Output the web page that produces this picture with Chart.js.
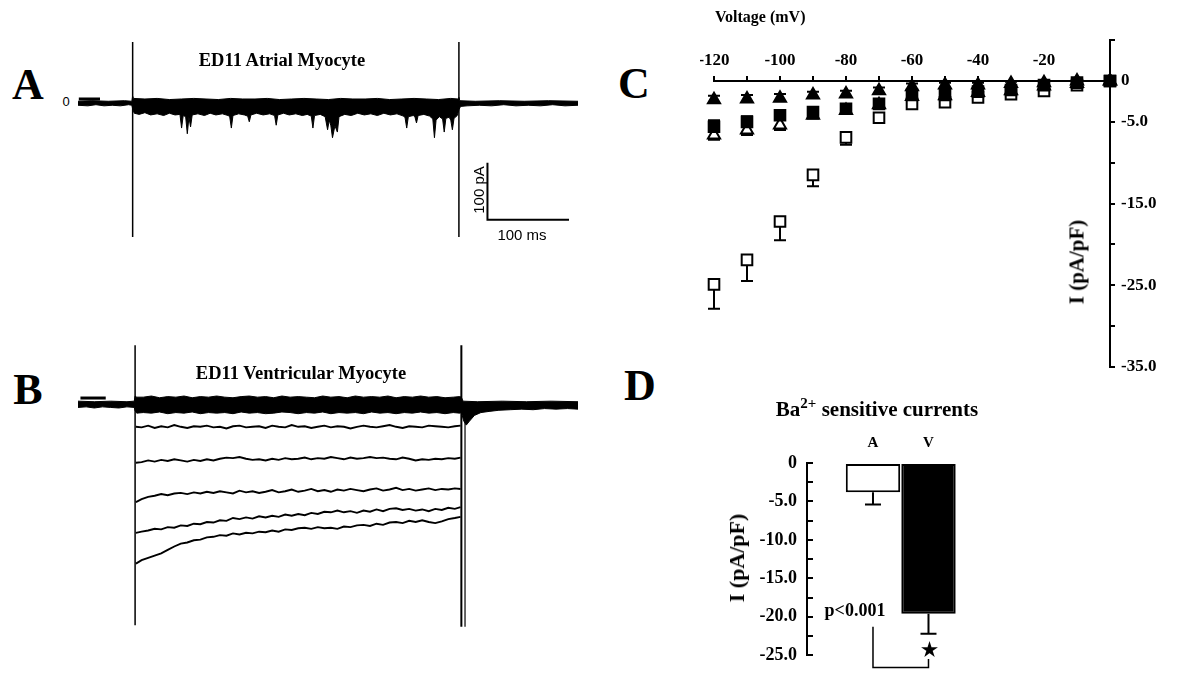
<!DOCTYPE html>
<html><head><meta charset="utf-8">
<script src="https://cdn.jsdelivr.net/npm/chart.js@4/dist/chart.umd.min.js"></script>
<style>
body{margin:0;background:#fff;width:1200px;height:693px;position:relative;overflow:hidden;}
canvas{position:absolute;}
.t{position:absolute;transform:translate(-50%,-50%);white-space:nowrap;color:#000;line-height:1;}
.serif{font-family:"Liberation Serif","DejaVu Serif",serif;font-weight:bold;}
.sans{font-family:"Liberation Sans","DejaVu Sans",sans-serif;}
.rot{transform:translate(-50%,-50%) rotate(-90deg);}
</style></head><body>
<canvas id="cA" width="500" height="200" style="left:78px;top:40px"></canvas>
<canvas id="cB" width="500" height="290" style="left:78px;top:340px"></canvas>
<canvas id="cC" width="470" height="359" style="left:700px;top:24px"></canvas>
<canvas id="cD" width="280" height="262" style="left:720px;top:420px"></canvas>

<div class="t serif" style="left:28px;top:85px;font-size:44px">A</div>
<div class="t serif" style="left:28px;top:390px;font-size:44px">B</div>
<div class="t serif" style="left:634px;top:84px;font-size:44px">C</div>
<div class="t serif" style="left:640px;top:386px;font-size:44px">D</div>
<div class="t serif" style="left:282px;top:60px;font-size:18.5px">ED11 Atrial Myocyte</div>
<div class="t serif" style="left:301px;top:373px;font-size:18.5px">ED11 Ventricular Myocyte</div>
<div class="t sans" style="left:66px;top:101px;font-size:13px;color:#000">0</div>
<div class="t sans rot" style="left:478px;top:190px;font-size:15px">100 pA</div>
<div class="t sans" style="left:522px;top:234px;font-size:15px">100 ms</div>
<div class="t serif" style="left:715px;top:17px;font-size:16px;transform:translate(0,-50%)">Voltage (mV)</div>
<div class="t serif rot" style="left:1077px;top:262px;font-size:21px">I (pA/pF)</div>
<div class="t serif" style="left:877px;top:408px;font-size:21px">Ba<sup style="font-size:15px">2+</sup> sensitive currents</div>
<div class="t serif rot" style="left:737px;top:558px;font-size:22px">I (pA/pF)</div>
<div class="t serif" style="left:855px;top:610px;font-size:18px">p&lt;0.001</div>
<div class="t serif" style="left:929px;top:649px;font-size:19px">&#9733;</div>

<script>
// ---------- Panel A: atrial myocyte current traces (time ms, current pA) ----------
const aUpperT = [-67,-50,-30,-10,-1,0,1,15,30,45,60,75,90,105,120,135,150,165,180,195,210,225,240,255,270,285,300,315,330,345,360,375,390,399,400,401,420,450,480,510,546];
const aUpper  = [3,4,3,4,3,12,8,7,8,6,7,8,7,6,8,7,7,8,6,7,8,7,6,8,7,7,8,6,7,8,7,6,8,7,10,4,3,4,3,4,3];
const aLowerT = [-67,-55,-45,-35,-25,-15,-5,-1,0,2,8,15,22,30,38,45,52,58,60,62,65,67,69,71,73,80,88,95,102,110,117,119,121,123,130,137,141,143,145,152,160,168,174,176,178,185,192,200,208,214,219,221,223,230,236,239,241,243,245,248,251,253,260,268,276,284,292,300,308,316,324,332,334,336,338,344,346,348,350,357,364,368,370,372,376,380,382,384,388,390,392,394,398,400,402,410,425,440,455,470,485,500,515,530,546];
const aLower  = [-4,-5,-3,-5,-4,-5,-3,-4,-10,-18,-20,-17,-21,-19,-22,-18,-21,-20,-44,-22,-24,-54,-25,-42,-21,-19,-22,-18,-21,-19,-22,-24,-44,-22,-19,-21,-23,-33,-21,-18,-21,-19,-22,-39,-21,-18,-21,-19,-22,-20,-23,-44,-22,-20,-24,-47,-30,-40,-61,-40,-51,-24,-20,-22,-18,-21,-19,-22,-18,-21,-19,-23,-26,-44,-24,-22,-24,-35,-22,-20,-23,-28,-61,-30,-24,-28,-51,-27,-25,-30,-47,-27,-22,-12,-6,-5,-4,-5,-3,-5,-4,-5,-3,-5,-4];
const aStepOnT = [0,0],     aStepOnI = [107,-235];
const aStepOffT = [400,400], aStepOffI = [107,-235];
const aZeroT = [-66,-40],   aZeroI = [7,7];
const aScaleT = [435,435,535], aScaleI = [-105,-205,-205];

// ---------- Panel B: ventricular myocyte current traces ----------
const bUpperT = [-70,-50,-30,-10,-1,0,2,10,20,30,40,50,60,70,80,90,100,110,120,130,140,150,160,170,180,190,200,210,220,230,240,250,260,270,280,290,300,310,320,330,340,350,360,370,380,390,398,400,402,420,450,480,510,543];
const bUpper  = [5,4,5,4,5,14,12,12,14,11,13,12,14,11,13,12,14,12,11,13,14,12,13,11,14,12,13,12,11,14,12,13,11,14,12,13,12,14,11,13,12,14,12,13,11,12,13,12,5,4,5,4,5,4];
const bLowerT = [-70,-60,-50,-40,-30,-20,-10,-1,0,2,10,20,30,40,50,60,70,80,90,100,110,120,130,140,150,160,170,180,190,200,210,220,230,240,250,260,270,280,290,300,310,320,330,340,350,360,370,380,390,398,400,403,406,410,416,424,434,446,460,474,488,502,516,530,543];
const bLower  = [-6,-5,-7,-5,-6,-7,-5,-6,-12,-16,-15,-16,-14,-17,-15,-16,-14,-17,-15,-16,-15,-17,-14,-16,-15,-17,-16,-14,-15,-17,-15,-16,-14,-17,-15,-16,-15,-17,-14,-16,-15,-17,-15,-16,-14,-16,-15,-17,-15,-16,-15,-30,-37,-30,-20,-15,-13,-11,-10,-9,-10,-8,-9,-8,-9];
const bTime = [1,8,16,24,32,40,48,56,64,72,80,88,96,104,112,120,128,136,144,152,160,168,176,184,192,200,208,216,224,232,240,248,256,264,272,280,288,296,304,312,320,328,336,344,352,360,368,376,384,392,399];
const bTrace1 = [-40,-41,-38,-42,-39,-41,-37,-40,-42,-39,-40,-38,-41,-40,-43,-39,-38,-41,-40,-39,-42,-38,-40,-41,-37,-40,-39,-42,-40,-38,-41,-39,-40,-43,-40,-38,-40,-41,-39,-37,-40,-42,-39,-40,-41,-38,-39,-40,-41,-39,-38];
const bTrace2 = [-103,-102,-99,-101,-98,-100,-97,-99,-101,-98,-100,-97,-99,-96,-94,-95,-93,-96,-98,-97,-99,-96,-98,-95,-97,-96,-94,-97,-95,-96,-93,-95,-97,-94,-96,-95,-93,-95,-94,-96,-97,-94,-96,-99,-97,-98,-96,-97,-95,-96,-94];
const bTrace3 = [-172,-167,-163,-161,-158,-160,-157,-156,-158,-155,-157,-154,-156,-153,-155,-157,-152,-155,-153,-156,-154,-151,-155,-153,-150,-154,-152,-149,-153,-151,-154,-150,-152,-149,-151,-153,-150,-148,-152,-150,-147,-151,-149,-152,-150,-148,-151,-149,-150,-148,-149];
const bTrace4 = [-226,-224,-222,-219,-220,-216,-217,-213,-214,-210,-211,-207,-208,-204,-205,-200,-202,-199,-201,-197,-199,-196,-198,-194,-196,-193,-195,-191,-193,-189,-190,-187,-190,-188,-191,-187,-189,-185,-188,-184,-183,-186,-184,-187,-185,-188,-184,-186,-182,-184,-181];
const bTrace5 = [-280,-274,-270,-266,-262,-256,-250,-245,-243,-239,-238,-234,-233,-230,-231,-227,-229,-226,-227,-224,-225,-222,-224,-220,-221,-218,-217,-219,-216,-218,-217,-219,-215,-216,-213,-212,-214,-210,-212,-208,-207,-209,-205,-207,-204,-207,-209,-206,-202,-200,-198];
const bStepOnT = [0,0],       bStepOnI = [103,-388];
const bStepOffT = [400,400],   bStepOffI = [103,-391];
const bStepOff2T = [404.5,404.5], bStepOff2I = [-30,-391];
const bZeroT = [-67,-36],     bZeroI = [10.5,10.5];

// ---------- Panel C: I-V relationship ----------
const voltages = [-120,-110,-100,-90,-80,-70,-60,-50,-40,-30,-20,-10,0];
const openSquares      = [-24.9,-21.9,-17.2,-11.5,-6.9,-4.5,-2.8,-2.6,-2.0,-1.6,-1.2,-0.5,0];
const openSquaresErr   = [3.0,2.6,2.3,1.4,0.9,0.3,0.3,0.3,0.2,0.2,0.2,0.2,0.2];
const openTriangles    = [-6.6,-6.0,-5.4,-4.2,-3.6,-2.9,-1.9,-1.8,-1.4,-1.2,-0.6,-0.3,0];
const openTrianglesErr = [0.6,0.6,0.6,0.4,0.3,0.3,0.2,0.2,0.2,0.2,0.2,0.2,0.2];
const filledSquares    = [-5.6,-5.0,-4.2,-3.8,-3.4,-2.8,-1.7,-1.7,-1.3,-1.1,-0.5,-0.2,0];
const filledSquaresErr = [0.8,0.7,0.6,0.4,0.3,0.3,0.3,0.3,0.2,0.2,0.2,0.2,0.2];
const filledTriangles  = [-2.3,-2.2,-2.1,-1.7,-1.6,-1.2,-0.7,-0.5,-0.5,-0.3,-0.2,0,0];
const filledTrianglesErr = [0.5,0.5,0.5,0.4,0.4,0.4,0.4,0.3,0.3,0.2,0.2,0.2,0.2];

// ---------- Panel D: Ba2+ sensitive currents ----------
const dCategories = ['A','V'];
const dValues = [-3.8,-19.6];
const dErrors = [1.6,2.6];
const dBracketI = [-21.3,-26.6,-26.6,-25.5];

// ---------- helpers ----------
const pts = (xs, ys) => xs.map((x,i)=>({x:x, y:ys[i]}));
const trace = (xs, ys, extra) => Object.assign({type:'line', data:pts(xs,ys), borderColor:'#000', borderWidth:1.9, pointRadius:0, fill:false, tension:0, clip:false}, extra||{});
const baseOpts = (xmin,xmax,ymin,ymax) => ({
  responsive:false, animation:false, events:[],
  layout:{padding:0},
  plugins:{legend:{display:false}, tooltip:{enabled:false}},
  scales:{x:{type:'linear', display:false, min:xmin, max:xmax}, y:{type:'linear', display:false, min:ymin, max:ymax}}
});

// Panel A
new Chart(document.getElementById('cA'), {
  type:'line',
  data:{datasets:[
    trace(aUpperT, aUpper, {fill:'origin', backgroundColor:'#000', borderWidth:1}),
    trace(aLowerT, aLower, {fill:'origin', backgroundColor:'#000', borderWidth:1}),
    trace(aStepOnT, aStepOnI, {borderWidth:1.5}),
    trace(aStepOffT, aStepOffI, {borderWidth:1.5}),
    trace(aZeroT, aZeroI, {borderWidth:3}),
    trace(aScaleT, aScaleI, {borderWidth:2})
  ]},
  options: baseOpts(-67, 546, -240.4, 110.5)
});

// Panel B
new Chart(document.getElementById('cB'), {
  type:'line',
  data:{datasets:[
    trace(bUpperT, bUpper, {fill:'origin', backgroundColor:'#000', borderWidth:1}),
    trace(bLowerT, bLower, {fill:'origin', backgroundColor:'#000', borderWidth:1}),
    trace(bTime, bTrace1), trace(bTime, bTrace2), trace(bTime, bTrace3),
    trace(bTime, bTrace4), trace(bTime, bTrace5),
    trace(bStepOnT, bStepOnI, {borderWidth:1.5}),
    trace(bStepOffT, bStepOffI, {borderWidth:2}),
    trace(bStepOff2T, bStepOff2I, {borderWidth:1.5, borderColor:'#333'}),
    trace(bZeroT, bZeroI, {borderWidth:3})
  ]},
  options: baseOpts(-70, 543, -396.5, 112.3)
});

// Error-bar plugin (uses the chart's own scales)
const errorBars = (hook) => ({
  id:'errorBars_'+hook,
  [hook](chart){
    const ctx = chart.ctx, xs = chart.scales.x, ys = chart.scales.y;
    chart.data.datasets.forEach(ds => {
      if (!ds.errors) return;
      ctx.save(); ctx.strokeStyle = '#000'; ctx.lineWidth = 2;
      ds.data.forEach((p,i) => {
        const e = ds.errors[i]; if (!e) return;
        const x = xs.getPixelForValue(p.x);
        const y0 = ys.getPixelForValue(p.y);
        const y1 = ys.getPixelForValue(p.y + ds.errDir*e);
        ctx.beginPath();
        ctx.moveTo(x,y0); ctx.lineTo(x,y1);
        ctx.moveTo(x-ds.capHalf,y1); ctx.lineTo(x+ds.capHalf,y1);
        ctx.stroke();
      });
      ctx.restore();
    });
  }
});

const serifBold = (size) => ({family:'"Liberation Serif", "DejaVu Serif", serif', weight:'bold', size:size});

// Panel C
const markerSet = (vals, errs, dir, style, fillCol, order, radius) => ({
  data: pts(voltages, vals), errors: errs, errDir: dir, capHalf: 6,
  pointStyle: style, pointRadius: radius, backgroundColor: fillCol, borderColor:'#000', borderWidth:2,
  order: order, clip:false, showLine:false
});
new Chart(document.getElementById('cC'), {
  type:'scatter',
  data:{datasets:[
    markerSet(filledTriangles, filledTrianglesErr, 1, 'triangle', '#000', 1, 7),
    markerSet(filledSquares, filledSquaresErr, 1, 'rect', '#000', 2, 7.5),
    markerSet(openTriangles, openTrianglesErr, -1, 'triangle', '#fff', 3, 7),
    markerSet(openSquares, openSquaresErr, -1, 'rect', '#fff', 4, 7.5)
  ]},
  plugins:[errorBars('beforeDatasetsDraw')],
  options:{
    responsive:false, animation:false, events:[],
    layout:{padding:{left:14, top:9, bottom:10, right:0}},
    plugins:{legend:{display:false}, tooltip:{enabled:false}},
    scales:{
      x:{type:'linear', min:-120, max:0, position:{y:0},
         afterFit(s){ s.height = 0; },
         grid:{drawOnChartArea:false, drawTicks:true, tickLength:-6, color:'#000', lineWidth:2},
         border:{display:true, color:'#000', width:2},
         ticks:{stepSize:10, autoSkip:false, maxRotation:0, padding:-25, color:'#000', font:serifBold(17),
                callback:(v)=> (v%20===0 && v!==0) ? String(v) : ''}},
      y:{type:'linear', position:'right', min:-35, max:5,
         afterFit(s){ s.width = 60; },
         grid:{drawOnChartArea:false, drawTicks:true, tickLength:5, color:'#000', lineWidth:2},
         border:{display:true, color:'#000', width:2},
         ticks:{stepSize:5, autoSkip:false, padding:6, color:'#000', font:serifBold(17),
                callback:(v)=> v===0 ? '0' : ([-5,-15,-25,-35].includes(v) ? v.toFixed(1) : '')}}
    }
  }
});

// Panel D
new Chart(document.getElementById('cD'), {
  type:'bar',
  data:{datasets:[
    {type:'bar', data: dCategories.map((c,i)=>({x:i+1, y:dValues[i]})), errors:dErrors, errDir:-1, capHalf:8,
     backgroundColor:['#fff','#000'], borderColor:'#000', borderWidth:2, borderSkipped:false,
     barPercentage:0.98, categoryPercentage:1},
    {type:'line', data: pts([1,1,2,2], dBracketI), borderColor:'#000', borderWidth:1.5, pointRadius:0, fill:false, clip:false}
  ]},
  plugins:[errorBars('afterDatasetsDraw')],
  options:{
    responsive:false, animation:false, events:[],
    layout:{padding:{left:0, top:0, right:20, bottom:17}},
    plugins:{legend:{display:false}, tooltip:{enabled:false}},
    scales:{
      x:{type:'linear', position:'top', offset:false, min:-0.189, max:2.928,
         afterBuildTicks(s){ s.ticks = [{value:1},{value:2}]; },
         afterFit(s){ s.height = 43; },
         grid:{display:false, drawTicks:false}, border:{display:false},
         ticks:{padding:11, color:'#000', font:serifBold(15), callback:(v)=> dCategories[v-1] || ''}},
      y:{type:'linear', min:-25, max:0,
         afterFit(s){ s.width = 87; },
         grid:{drawOnChartArea:false, drawTicks:true, tickLength:-6, color:'#000', lineWidth:2},
         border:{display:true, color:'#000', width:2},
         ticks:{stepSize:2.5, autoSkip:false, padding:16, color:'#000', font:serifBold(18),
                callback:(v)=> v===0 ? '0' : (v%5===0 ? v.toFixed(1) : '')}}
    }
  }
});
</script>
</body></html>
